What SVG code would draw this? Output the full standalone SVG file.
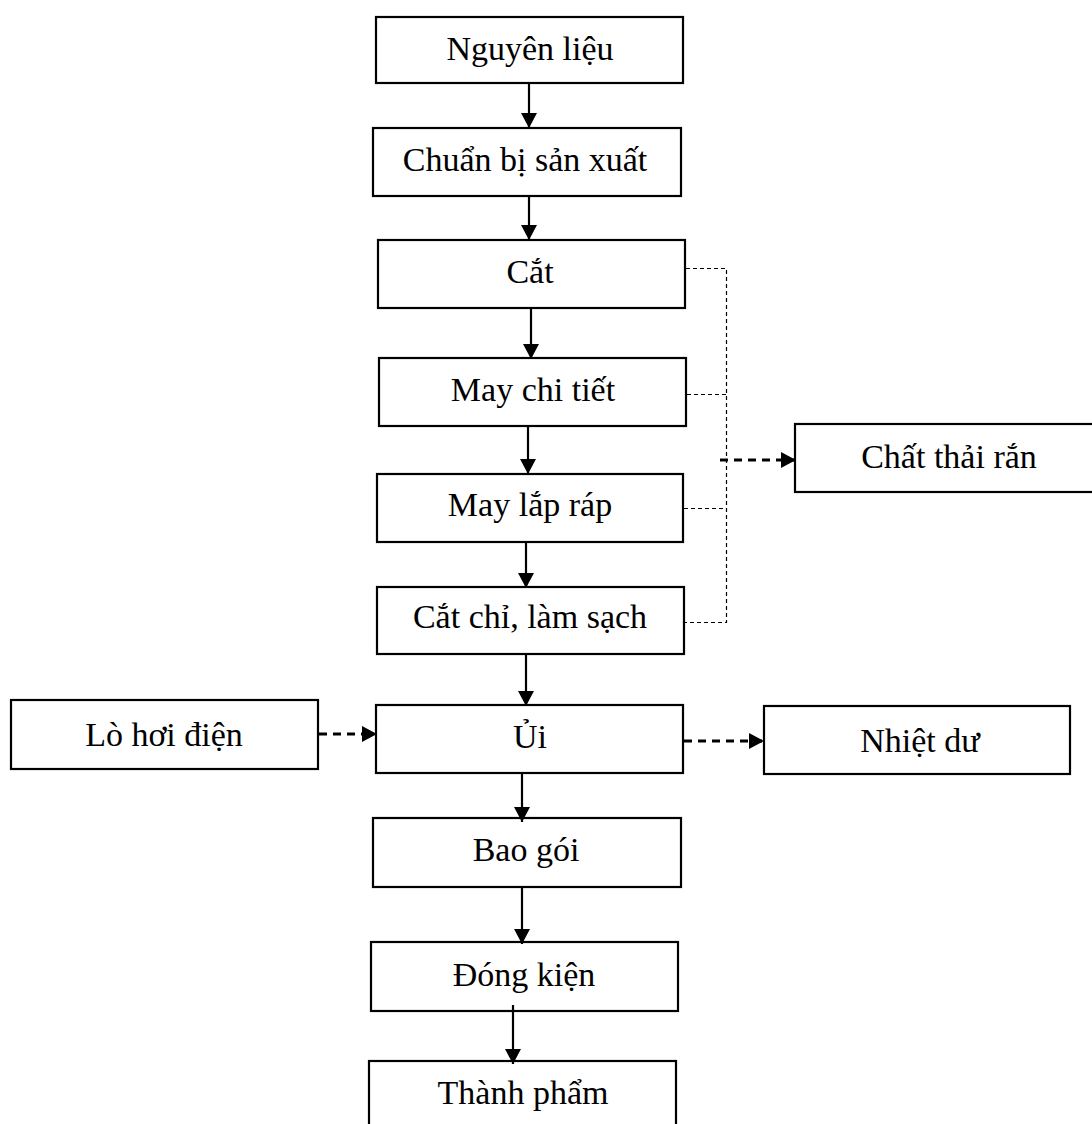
<svg xmlns="http://www.w3.org/2000/svg" width="1092" height="1124" viewBox="0 0 1092 1124">
<style>
.box{fill:#fff;stroke:#000;stroke-width:2.2}
.lbl{font-family:"Liberation Serif","Times New Roman",serif;font-size:34px;fill:#000;text-anchor:middle}
.solid{fill:none;stroke:#000;stroke-width:2.2}
.thin{fill:none;stroke:#000;stroke-width:1.2;stroke-dasharray:4 3}
.thick{fill:none;stroke:#000;stroke-width:2.8;stroke-dasharray:8 6}
</style>
<defs>
<marker id="ah" markerUnits="userSpaceOnUse" markerWidth="16" markerHeight="18" refX="15" refY="8" orient="auto">
<path d="M0,0 L15,8 L0,16 Z" fill="#000"/>
</marker>
</defs>
<rect width="1092" height="1124" fill="#fff"/>
<g id="n1"><rect class="box" x="376" y="17" width="307" height="66"/><text class="lbl" x="530" y="60">Nguyên liệu</text></g>
<g id="n2"><rect class="box" x="373" y="128" width="308" height="68"/><text class="lbl" x="525" y="171">Chuẩn bị sản xuất</text></g>
<g id="n3"><rect class="box" x="378" y="240" width="307" height="68"/><text class="lbl" x="530" y="283">Cắt</text></g>
<g id="n4"><rect class="box" x="379" y="358" width="307" height="68"/><text class="lbl" x="533" y="401">May chi tiết</text></g>
<g id="n5"><rect class="box" x="377" y="474" width="306" height="68"/><text class="lbl" x="530" y="516">May lắp ráp</text></g>
<g id="n6"><rect class="box" x="377" y="587" width="307" height="67"/><text class="lbl" x="530" y="628">Cắt chỉ, làm sạch</text></g>
<g id="n7"><rect class="box" x="376" y="705" width="307" height="68"/><text class="lbl" x="530" y="748">Ủi</text></g>
<g id="n8"><rect class="box" x="11" y="700" width="307" height="69"/><text class="lbl" x="164" y="746">Lò hơi điện</text></g>
<g id="n9"><rect class="box" x="764" y="706" width="306" height="68"/><text class="lbl" x="920" y="752">Nhiệt dư</text></g>
<g id="n10"><rect class="box" x="795" y="424" width="310" height="68"/><text class="lbl" x="949" y="468">Chất thải rắn</text></g>
<g id="n11"><rect class="box" x="373" y="818" width="308" height="69"/><text class="lbl" x="526" y="861">Bao gói</text></g>
<g id="n12"><rect class="box" x="371" y="942" width="307" height="69"/><text class="lbl" x="524" y="986">Đóng kiện</text></g>
<g id="n13"><rect class="box" x="369" y="1061" width="307" height="80"/><text class="lbl" x="523" y="1104">Thành phẩm</text></g>
<g id="connectors">
<line class="solid" x1="529" y1="83" x2="529" y2="128" marker-end="url(#ah)"/>
<line class="solid" x1="529" y1="196" x2="529" y2="240" marker-end="url(#ah)"/>
<line class="solid" x1="531" y1="308" x2="531" y2="359" marker-end="url(#ah)"/>
<line class="solid" x1="528" y1="426" x2="528" y2="474" marker-end="url(#ah)"/>
<line class="solid" x1="526" y1="542" x2="526" y2="588" marker-end="url(#ah)"/>
<line class="solid" x1="526" y1="654" x2="526" y2="706" marker-end="url(#ah)"/>
<line class="solid" x1="522" y1="773" x2="522" y2="822" marker-end="url(#ah)"/>
<line class="solid" x1="522" y1="887" x2="522" y2="944" marker-end="url(#ah)"/>
<line class="solid" x1="513" y1="1005" x2="513" y2="1064" marker-end="url(#ah)"/>
<polyline class="thin" points="686,268.5 726.5,268.5 726.5,622.5 685,622.5"/>
<line class="thin" x1="687" y1="394.5" x2="726.5" y2="394.5"/>
<line class="thin" x1="684" y1="508.5" x2="726.5" y2="508.5"/>
<line class="thick" x1="720" y1="460" x2="796" y2="460" marker-end="url(#ah)"/>
<line class="thick" x1="319" y1="734" x2="377" y2="734" marker-end="url(#ah)"/>
<line class="thick" x1="684" y1="741" x2="764" y2="741" marker-end="url(#ah)"/>
</g>
</svg>
